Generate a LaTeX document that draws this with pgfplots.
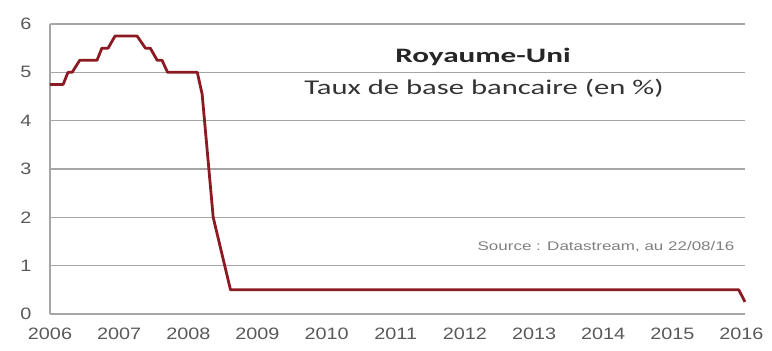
\documentclass[border=0pt]{standalone}
\usepackage{pgfplots}
\pgfplotsset{compat=1.18}
\usepackage{fontspec}
\setmainfont{Liberation Sans}
\newfontfamily\carlito{Carlito}
\definecolor{linered}{HTML}{8B1A22}
\definecolor{gridgray}{HTML}{A6A6A6}
\definecolor{ticktext}{HTML}{595959}
\definecolor{srctext}{HTML}{7F7F7F}
\begin{document}
\begin{tikzpicture}[x=1pt,y=1pt]
\begin{axis}[
  at={(0,0)}, anchor=south west,
  scale only axis, width=695pt, height=290pt,
  xmin=2006, xmax=2016.05, ymin=0, ymax=6,
  xtick={2006,2007,...,2016}, ytick={0,1,...,6},
  /pgf/number format/assume math mode=true,
  /pgf/number format/1000 sep={},
  axis lines*=left,
  axis line style={gridgray, line width=1.3pt},
  ymajorgrids, grid style={gridgray, line width=1.3pt},
  major tick length=0pt,
  tick label style={ticktext, font=\fontsize{16.5}{16.5}\selectfont, xscale=1.2},
  xticklabel style={yshift=-10pt},
  yticklabel style={xshift=-12pt},
  clip=false,
]
\addplot[linered, line width=2.8pt, line join=round] coordinates {
(2006.00,4.75) (2006.19,4.75) (2006.26,5.0) (2006.32,5.0) (2006.43,5.25)
(2006.68,5.25) (2006.75,5.5) (2006.84,5.5) (2006.94,5.75) (2007.26,5.75)
(2007.38,5.5) (2007.45,5.5) (2007.55,5.25) (2007.62,5.25) (2007.70,5.0)
(2008.13,5.0) (2008.20,4.55) (2008.36,2.0) (2008.61,0.5) (2015.96,0.5)
(2016.05,0.25)
};
\end{axis}
\node[font=\carlito\bfseries\fontsize{20.5}{20.5}\selectfont, text=black!85, xscale=1.52] at (433,257) {Royaume-Uni};
\node[font=\carlito\fontsize{21}{21}\selectfont, text=black!80, xscale=1.46] at (434,226) {Taux de base bancaire (en \%)};
\node[font=\fontsize{12.5}{12.5}\selectfont, text=srctext, xscale=1.36] at (556,67) {Source : Datastream, au 22/08/16};
\path (-50,-37) rectangle (722,314);
\end{tikzpicture}
\end{document}
